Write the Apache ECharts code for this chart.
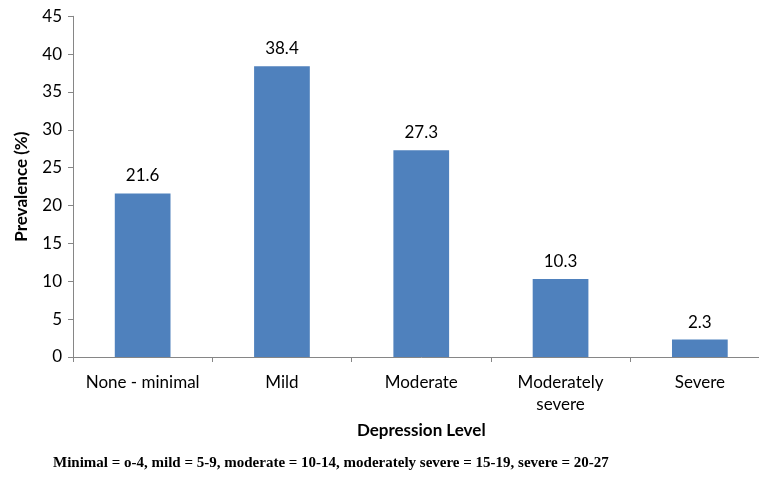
<!DOCTYPE html>
<html>
<head>
<meta charset="utf-8">
<script src="https://cdn.jsdelivr.net/npm/echarts@6/dist/echarts.min.js"></script>
<style>
  html, body { margin: 0; padding: 0; background: #fff; overflow: hidden; }
  /* the plot runs slightly past the right edge of the window */
  #chart { width: 770px; height: 478px; }
</style>
</head>
<body>
<div id="chart"></div>
<script>
// Depression severity categories and prevalence (%)
const categories = ['None - minimal', 'Mild', 'Moderate', 'Moderately\nsevere', 'Severe'];
const prevalence = [21.6, 38.4, 27.3, 10.3, 2.3];
const yTicks = [0, 5, 10, 15, 20, 25, 30, 35, 40, 45];
const footnote = 'Minimal = o-4, mild = 5-9, moderate = 10-14, moderately severe = 15-19, severe = 20-27';

const baseFont = 'Lato, "Open Sans", "Liberation Sans", sans-serif';
const axisGray = '#868686';

const chart = echarts.init(document.getElementById('chart'), null, { renderer: 'canvas' });
chart.setOption({
  animation: false,
  backgroundColor: '#ffffff',
  grid: { left: 73, top: 16.3, right: 0.5, height: 340.7, containLabel: false },
  graphic: [{
    type: 'text',
    left: 53,
    top: 456,
    style: {
      text: footnote,
      font: 'bold 15px "Liberation Serif", "Times New Roman", serif',
      fill: '#000'
    }
  }],
  xAxis: {
    type: 'category',
    data: categories,
    axisLine: { show: true, lineStyle: { color: axisGray, width: 1 } },
    axisTick: { show: true, alignWithLabel: false, length: 5, lineStyle: { color: axisGray } },
    axisLabel: {
      color: '#000', fontSize: 17, fontFamily: baseFont, margin: 15, lineHeight: 22, interval: 0
    },
    name: 'Depression Level',
    nameLocation: 'middle',
    nameGap: 65,
    nameTextStyle: { color: '#000', fontSize: 17, fontWeight: 'bold', fontFamily: baseFont }
  },
  yAxis: {
    type: 'value',
    min: yTicks[0],
    max: yTicks[yTicks.length - 1],
    interval: yTicks[1] - yTicks[0],
    axisLine: { show: true, lineStyle: { color: axisGray, width: 1 } },
    axisTick: { show: true, inside: false, length: 5, lineStyle: { color: axisGray } },
    splitLine: { show: false },
    axisLabel: { color: '#000', fontSize: 17, fontFamily: baseFont, margin: 11 },
    name: 'Prevalence (%)',
    nameLocation: 'middle',
    nameGap: 43,
    nameRotate: 90,
    nameTextStyle: { color: '#000', fontSize: 17, fontWeight: 'bold', fontFamily: baseFont }
  },
  series: [{
    type: 'bar',
    data: prevalence,
    barWidth: '40%',
    itemStyle: { color: '#4F81BD' },
    label: {
      show: true,
      position: 'top',
      distance: 9,
      color: '#000',
      fontSize: 17,
      fontFamily: baseFont,
      formatter: p => p.value.toFixed(1)
    }
  }]
});
</script>
</body>
</html>
